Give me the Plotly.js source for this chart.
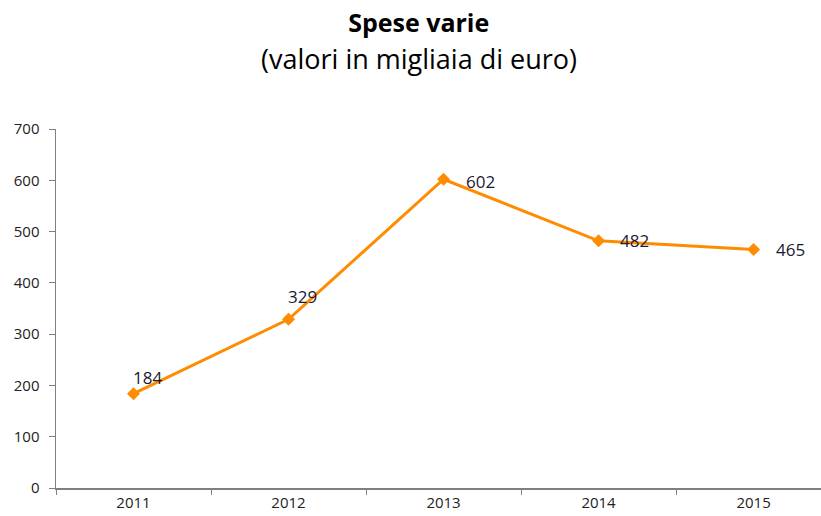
<!DOCTYPE html>
<html>
<head>
<meta charset="utf-8">
<script src="https://cdn.plot.ly/plotly-3.0.1.min.js"></script>
<style>html,body{margin:0;padding:0;background:#fff;}#chart{width:821px;height:516px;}</style>
</head>
<body>
<div id="chart"></div>
<script>
const years = ['2011', '2012', '2013', '2014', '2015'];
const values = [184, 329, 602, 482, 465];
const titleText = 'Spese varie';
const subtitleText = '(valori in migliaia di euro)';

// label offsets (presentation only)
const labelDx = [-3, -3, 20, 19, 20];
const labelDy = [16, 23, -2, 0, 0];

const FONT = '"Open Sans", Lato, sans-serif';

const trace = {
  x: years,
  y: values,
  type: 'scatter',
  mode: 'lines+markers',
  line: {color: '#FF8C00', width: 3},
  marker: {symbol: 'diamond', size: 10, color: '#FF8C00'},
  hoverinfo: 'x+y'
};

const annotations = years.map((yr, i) => ({
  x: i, y: values[i], xref: 'x', yref: 'y',
  text: String(values[i]), showarrow: false,
  xanchor: 'left', yanchor: 'middle',
  xshift: labelDx[i], yshift: labelDy[i],
  font: {family: FONT, size: 17, color: '#1a1a33'}
}));
annotations.push({
  xref: 'paper', yref: 'paper', x: 0.474, y: 1, yshift: 71,
  xanchor: 'center', yanchor: 'middle', showarrow: false,
  text: subtitleText,
  font: {family: FONT, size: 27, color: '#000'}
});

const layout = {
  width: 821, height: 516,
  margin: {l: 56, r: 0, t: 129, b: 28},
  paper_bgcolor: '#fff', plot_bgcolor: '#fff',
  showlegend: false,
  title: {
    text: '<b>' + titleText + '</b>',
    x: 0.51, xref: 'container', xanchor: 'center',
    y: 0.955, yref: 'container', yanchor: 'middle',
    font: {family: FONT, size: 25, color: '#000'}
  },
  xaxis: {
    type: 'category',
    range: [-0.5, 4.435],
    showline: true, linecolor: '#808080', linewidth: 1.5,
    showgrid: false, zeroline: false,
    ticks: 'outside', tickson: 'boundaries', ticklen: 5, tickcolor: '#808080',
    tickfont: {family: FONT, size: 15, color: '#222'},
    fixedrange: true
  },
  yaxis: {
    range: [0, 700], dtick: 100, tick0: 0,
    showline: true, linecolor: '#808080', linewidth: 1.5,
    showgrid: false, zeroline: false,
    ticks: 'outside', ticklen: 6, tickcolor: '#808080',
    ticklabelstandoff: 6,
    tickfont: {family: FONT, size: 15, color: '#222'},
    fixedrange: true
  },
  annotations: annotations
};

Plotly.newPlot('chart', [trace], layout, {displayModeBar: false, staticPlot: true});
</script>
</body>
</html>
